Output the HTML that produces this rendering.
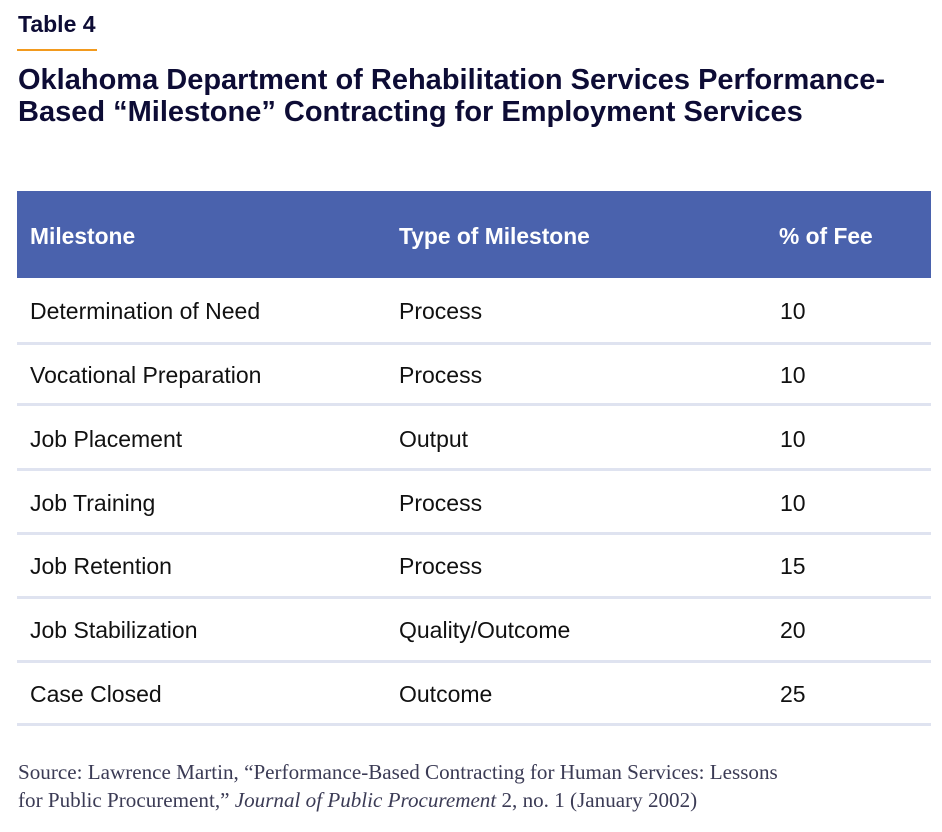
<!DOCTYPE html>
<html><head><style>
body{margin:0;width:942px;height:832px;background:#fff;position:relative;font-family:"Liberation Sans",sans-serif;overflow:hidden}
.a{position:absolute;white-space:nowrap}
.t{color:#0d0c35;font-weight:bold}
.c{color:#111;font-size:23px;line-height:24px}
.h{color:#fff;font-weight:bold;font-size:22.8px;line-height:24px}
.sep{position:absolute;left:17px;width:914px;height:3px;background:#dfe3f0}
.s{font-family:"Liberation Serif",serif;color:#3b3b55;font-size:21.1px;line-height:28px}
</style></head><body>
<div class="a t" style="left:18px;top:12px;font-size:23px;line-height:24px">Table 4</div>
<div class="a" style="left:17px;top:49px;width:80px;height:2px;background:#f29a1e"></div>
<div class="a t" style="left:18px;top:64px;font-size:29px;line-height:32px">Oklahoma Department of Rehabilitation Services Performance-<br>Based “Milestone” Contracting for Employment Services</div>
<div class="a" style="left:17px;top:191px;width:914px;height:87px;background:#4a62ad"></div>
<div class="a h" style="left:30px;top:224px">Milestone</div>
<div class="a h" style="left:399px;top:224px">Type of Milestone</div>
<div class="a h" style="left:779px;top:224px">% of Fee</div>

<div class="a c" style="left:30px;top:299px">Determination of Need</div><div class="a c" style="left:399px;top:299px">Process</div><div class="a c" style="left:780px;top:299px">10</div>
<div class="sep" style="top:342px"></div>
<div class="a c" style="left:30px;top:363px">Vocational Preparation</div><div class="a c" style="left:399px;top:363px">Process</div><div class="a c" style="left:780px;top:363px">10</div>
<div class="sep" style="top:403px"></div>
<div class="a c" style="left:30px;top:427px">Job Placement</div><div class="a c" style="left:399px;top:427px">Output</div><div class="a c" style="left:780px;top:427px">10</div>
<div class="sep" style="top:468px"></div>
<div class="a c" style="left:30px;top:491px">Job Training</div><div class="a c" style="left:399px;top:491px">Process</div><div class="a c" style="left:780px;top:491px">10</div>
<div class="sep" style="top:532px"></div>
<div class="a c" style="left:30px;top:554px">Job Retention</div><div class="a c" style="left:399px;top:554px">Process</div><div class="a c" style="left:780px;top:554px">15</div>
<div class="sep" style="top:596px"></div>
<div class="a c" style="left:30px;top:618px">Job Stabilization</div><div class="a c" style="left:399px;top:618px">Quality/Outcome</div><div class="a c" style="left:780px;top:618px">20</div>
<div class="sep" style="top:660px"></div>
<div class="a c" style="left:30px;top:682px">Case Closed</div><div class="a c" style="left:399px;top:682px">Outcome</div><div class="a c" style="left:780px;top:682px">25</div>
<div class="sep" style="top:723px"></div>

<div class="a s" style="left:18px;top:758px">Source: Lawrence Martin, “Performance-Based Contracting for Human Services: Lessons<br>for Public Procurement,” <i>Journal of Public Procurement</i> 2, no. 1 (January 2002)</div>
</body></html>
